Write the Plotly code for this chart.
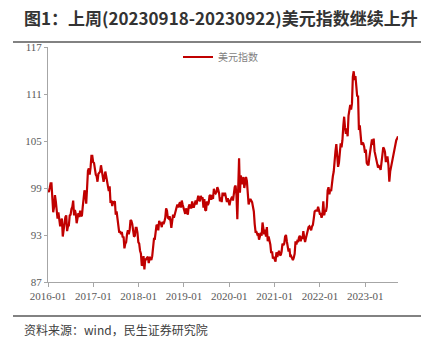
import pandas as pd
import plotly.graph_objects as go

# Weekly (Friday) closes of the US dollar index, one list per calendar year
dxy_2016 = [98.7, 98.5, 99.0, 99.6, 99.6, 97.0, 95.9, 96.6, 98.1, 97.3, 96.2, 95.1, 95.9,
            94.6, 94.1, 94.7, 95.1, 92.8, 93.9, 94.6, 95.3, 95.5, 93.5, 94.1, 94.2, 95.5,
            95.6, 96.3, 96.6, 97.4, 95.5, 96.2, 95.7, 94.5, 95.5, 95.8, 95.3, 96.1, 95.5,
            95.4, 96.6, 98.0, 98.7, 98.3, 97.0, 99.0, 101.2, 101.5, 100.7, 101.6, 103.1,
            103.1, 102.3]
dxy_2017 = [102.2, 101.2, 100.7, 100.5, 99.8, 100.8, 100.9, 101.1, 101.9, 101.3, 100.3,
            99.8, 100.4, 101.1, 100.5, 99.9, 99.0, 98.6, 99.2, 97.1, 97.4, 96.7, 97.2,
            97.2, 97.3, 95.6, 96.0, 95.2, 94.2, 93.3, 93.5, 93.1, 93.4, 92.7, 92.8, 91.3,
            91.9, 92.1, 93.1, 93.6, 93.1, 93.6, 94.9, 94.8, 94.4, 93.7, 92.8, 92.9, 93.9,
            93.9, 93.3, 92.1]
dxy_2018 = [91.9, 91.0, 90.6, 89.1, 89.2, 90.3, 88.6, 89.9, 89.9, 90.1, 90.2, 89.4, 90.1,
            90.1, 89.8, 90.3, 91.5, 92.5, 92.5, 93.6, 94.3, 94.2, 93.6, 94.8, 94.5, 94.5,
            94.0, 94.7, 94.4, 94.7, 95.2, 96.4, 96.1, 95.2, 95.1, 95.4, 94.9, 93.9, 95.1,
            95.6, 95.2, 95.7, 96.4, 96.5, 96.9, 96.5, 96.9, 97.2, 96.5, 97.4, 96.9, 96.4]
dxy_2019 = [96.2, 95.7, 96.4, 95.8, 95.6, 96.6, 96.9, 96.5, 96.5, 97.3, 96.6, 96.6, 97.3,
            97.4, 96.9, 97.4, 98.0, 97.5, 97.3, 98.0, 97.6, 97.8, 96.5, 97.6, 96.2, 96.1,
            97.3, 96.8, 97.1, 98.0, 98.1, 97.5, 98.1, 97.6, 98.9, 98.4, 98.3, 98.5, 99.1,
            98.8, 98.3, 97.3, 97.8, 97.2, 98.4, 98.0, 98.3, 98.3, 97.7, 97.2, 97.7, 96.9]
dxy_2020 = [96.8, 97.4, 97.6, 97.9, 97.4, 98.7, 99.1, 99.3, 98.1, 95.0, 98.7, 102.8, 98.4,
            100.6, 99.5, 99.8, 100.4, 99.0, 99.7, 100.4, 99.9, 98.3, 96.9, 97.3, 97.6,
            97.4, 97.2, 96.6, 96.0, 94.4, 93.4, 93.4, 93.1, 93.2, 92.4, 92.8, 93.3, 92.9,
            94.6, 93.8, 93.1, 93.7, 92.8, 94.0, 92.2, 92.8, 92.4, 91.8, 90.7, 90.9, 90.0,
            90.2]
dxy_2021 = [89.9, 89.6, 90.8, 90.2, 90.6, 91.0, 90.5, 90.4, 90.9, 91.9, 91.7, 91.9, 92.8,
            93.0, 92.2, 91.6, 90.9, 91.3, 90.2, 90.3, 90.0, 89.8, 90.1, 90.6, 92.2, 91.8,
            92.2, 92.1, 92.7, 92.9, 92.2, 92.8, 92.5, 93.5, 92.7, 92.1, 92.6, 93.2, 93.3,
            94.0, 94.1, 93.9, 93.6, 94.1, 94.3, 95.1, 96.0, 96.1, 96.1, 96.1, 96.6, 96.0,
            95.7]
dxy_2022 = [95.7, 95.2, 95.6, 97.3, 95.5, 96.1, 96.0, 96.6, 98.7, 99.1, 98.2, 98.8, 98.6,
            99.8, 100.5, 101.1, 103.0, 103.7, 104.6, 103.2, 101.7, 102.2, 104.2, 104.7,
            104.2, 105.1, 106.9, 108.1, 106.7, 105.9, 106.6, 105.6, 108.2, 108.8, 109.6,
            109.0, 109.8, 113.2, 113.9, 112.8, 113.3, 112.0, 110.7, 110.8, 106.4, 107.0,
            106.0, 104.5, 104.8, 104.7, 104.3, 103.5]
dxy_2023 = [103.9, 102.2, 102.0, 101.9, 102.9, 103.6, 103.9, 105.2, 104.5, 105.3, 103.7,
            103.1, 102.5, 102.1, 101.6, 101.8, 101.7, 101.3, 102.7, 103.2, 104.2, 104.0,
            103.6, 102.3, 102.9, 102.9, 101.9, 99.8, 101.1, 101.7, 102.0, 102.8, 103.4,
            104.1, 104.3, 105.1, 105.3, 105.6]

first_fridays = ["2016-01-01", "2017-01-06", "2018-01-05", "2019-01-04",
                 "2020-01-03", "2021-01-01", "2022-01-07", "2023-01-06"]
yearly = [dxy_2016, dxy_2017, dxy_2018, dxy_2019, dxy_2020, dxy_2021, dxy_2022, dxy_2023]

dates, values = [], []
for start, vals in zip(first_fridays, yearly):
    dates.extend(pd.date_range(start, periods=len(vals), freq="7D"))
    values.extend(vals)

y_ticks = [87, 93, 99, 105, 111, 117]
series_name = "美元指数"
title_text = "图1：上周(20230918-20230922)美元指数继续上升"
source_text = "资料来源：wind，民生证券研究院"

W, H = 430, 341
L, R, T, B = 48, 32, 47, 59
plot_w, plot_h = W - L - R, H - T - B


def px_x(px):
    return (px - L) / plot_w


def px_y(py):
    return (H - B - py) / plot_h


fig = go.Figure()
fig.add_trace(go.Scatter(x=dates, y=values, mode="lines", name=series_name,
                         line=dict(color="#c00000", width=2.2)))

tick_font = dict(family="Liberation Serif", size=11, color="#595959")
fig.update_layout(
    width=W, height=H,
    margin=dict(l=L, r=R, t=T, b=B),
    paper_bgcolor="white", plot_bgcolor="white",
    showlegend=True,
    legend=dict(orientation="h", x=px_x(178), y=px_y(57), xanchor="left", yanchor="middle",
                font=dict(family="Noto Sans CJK SC", size=10, color="#7f7f7f"),
                bgcolor="rgba(0,0,0,0)", itemwidth=30),
    xaxis=dict(range=[dates[0], dates[-1]], tickformat="%Y-%m", dtick="M12",
               tick0="2016-01-01", showgrid=False, zeroline=False,
               showline=True, linecolor="#a6a6a6", linewidth=1,
               ticks="outside", ticklen=4, tickcolor="#a6a6a6", tickfont=tick_font),
    yaxis=dict(range=[87, 117], tickvals=y_ticks, showgrid=False, zeroline=False,
               showline=True, linecolor="#a6a6a6", linewidth=1,
               ticks="outside", ticklen=3, tickcolor="#a6a6a6", tickfont=tick_font),
    shapes=[
        dict(type="line", xref="paper", yref="paper", x0=px_x(13), x1=px_x(421),
             y0=px_y(42), y1=px_y(42), line=dict(color="#595959", width=1.5)),
        dict(type="line", xref="paper", yref="paper", x0=px_x(13), x1=px_x(421),
             y0=px_y(316), y1=px_y(316), line=dict(color="#595959", width=1.5)),
    ],
    annotations=[
        dict(text="<b>" + title_text + "</b>", xref="paper", yref="paper",
             x=px_x(22), y=px_y(17), xanchor="left", yanchor="middle", showarrow=False,
             font=dict(family="Noto Sans CJK SC", size=17, color="#333333")),
        dict(text=source_text, xref="paper", yref="paper",
             x=px_x(22), y=px_y(329), xanchor="left", yanchor="middle", showarrow=False,
             font=dict(family="Noto Sans CJK SC", size=12, color="#404040")),
    ],
)

fig.write_html("out.html")
